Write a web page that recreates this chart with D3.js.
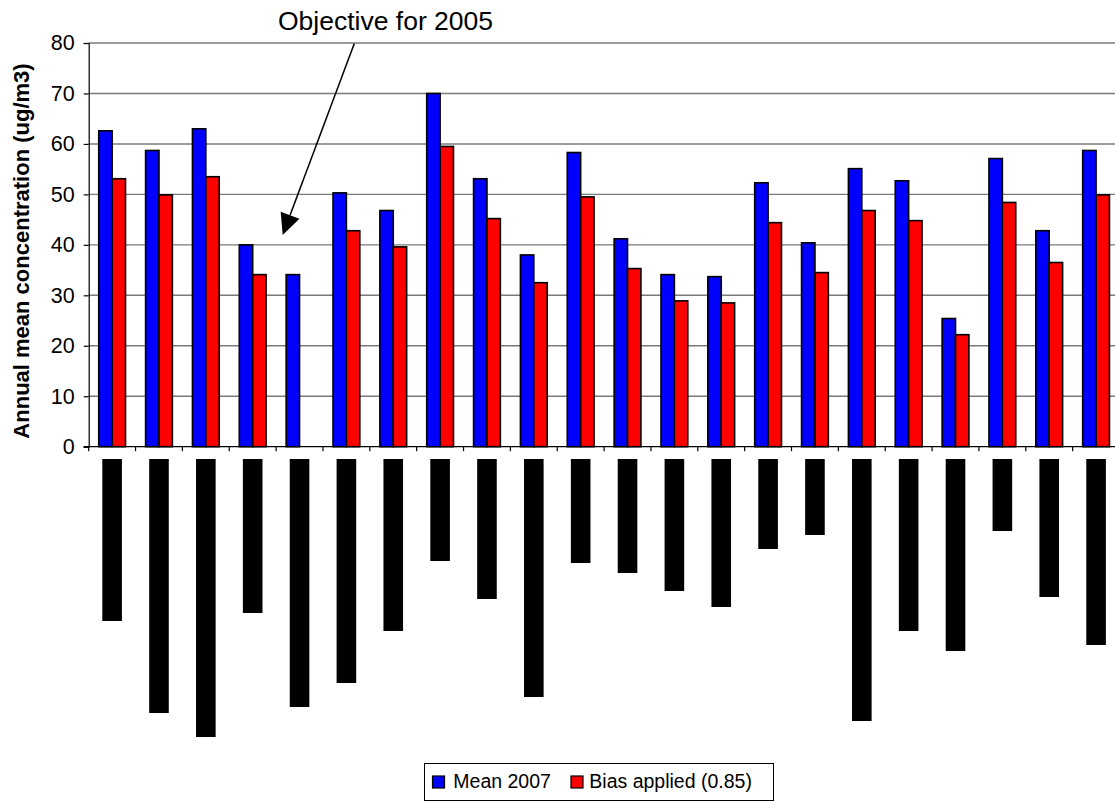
<!DOCTYPE html>
<html>
<head>
<meta charset="utf-8">
<script src="https://cdn.jsdelivr.net/npm/d3@7"></script>
<style>
  html, body { margin: 0; padding: 0; background: #fff; }
  svg { display: block; font-family: "Liberation Sans", Arial, sans-serif; }
</style>
</head>
<body>
<svg id="chart" width="1115" height="805"></svg>
<script>
// Monitoring sites (names are withheld and shown as blocked-out labels)
const sites = ["S01","S02","S03","S04","S05","S06","S07","S08","S09","S10","S11",
               "S12","S13","S14","S15","S16","S17","S18","S19","S20","S21","S22"];

// Annual mean concentration, 2007 (ug/m3)
const mean2007 = [62.6, 58.7, 63.0, 40.0, 34.1, 50.3, 46.8, 70.0, 53.1, 38.0, 58.3,
                  41.2, 34.1, 33.7, 52.3, 40.4, 55.1, 52.7, 25.4, 57.1, 42.8, 58.7];

// Same means with the 0.85 bias factor applied (no value for the fifth site)
const biasApplied = [53.1, 49.9, 53.5, 34.1, null, 42.8, 39.6, 59.5, 45.2, 32.5, 49.5,
                     35.3, 28.9, 28.5, 44.4, 34.5, 46.8, 44.8, 22.2, 48.4, 36.5, 49.9];

// Extent of each blocked-out site label below the axis
const labelExtent = [162, 254, 278, 154, 248, 224, 172, 102, 140, 238, 104,
                     114, 132, 148, 90, 76, 262, 172, 192, 72, 138, 186];

const yTicks = [0, 10, 20, 30, 40, 50, 60, 70, 80];
const seriesNames = ["Mean 2007", "Bias applied (0.85)"];
const seriesColors = ["#0000FF", "#FF0000"];

const svg = d3.select("#chart");
const font = '"Liberation Sans", Arial, sans-serif';

const plot = { left: 88.7, right: 1119.5, top: 43, bottom: 446.7 };

const x = d3.scaleBand().domain(sites).range([plot.left, plot.right]).padding(0);
const xs = d3.scaleBand().domain([0, 1]).range([0, x.bandwidth()])
  .paddingInner(0).paddingOuter(0.75);
const y = d3.scaleLinear().domain([0, 80]).range([plot.bottom, plot.top]);

// gridlines
svg.append("g").selectAll("line").data(yTicks.filter(d => d > 0)).join("line")
  .attr("x1", plot.left).attr("x2", plot.right)
  .attr("y1", d => y(d)).attr("y2", d => y(d))
  .attr("stroke", "#7a7a7a").attr("stroke-width", 1.4);

// bars
const rows = sites.map((s, i) => ({ site: s, vals: [mean2007[i], biasApplied[i]] }));
const groups = svg.append("g").selectAll("g").data(rows).join("g")
  .attr("transform", d => `translate(${x(d.site)},0)`);
groups.selectAll("rect")
  .data(d => d.vals.map((v, k) => ({ v, k })).filter(o => o.v != null))
  .join("rect")
  .attr("x", o => xs(o.k))
  .attr("width", xs.bandwidth())
  .attr("y", o => y(o.v))
  .attr("height", o => y(0) - y(o.v))
  .attr("fill", o => seriesColors[o.k])
  .attr("stroke", "#000").attr("stroke-width", 1.6);

// y axis
const yAxis = d3.axisLeft(y).tickValues(yTicks).tickSize(5).tickPadding(9);
const gy = svg.append("g").attr("transform", `translate(${plot.left},0)`).call(yAxis);
gy.select(".domain").attr("stroke", "#000").attr("stroke-width", 1.2);
gy.selectAll(".tick line").attr("stroke", "#000").attr("stroke-width", 1.2);
gy.selectAll(".tick text").attr("font-family", font).attr("font-size", 21.5)
  .attr("fill", "#000");

// x axis: baseline with ticks at category boundaries
const gx = svg.append("g");
gx.append("line").attr("x1", plot.left - 5).attr("x2", plot.right)
  .attr("y1", y(0)).attr("y2", y(0)).attr("stroke", "#000").attr("stroke-width", 1.2);
gx.selectAll("line.tk").data(sites).join("line").attr("class", "tk")
  .attr("x1", d => x(d)).attr("x2", d => x(d))
  .attr("y1", y(0)).attr("y2", y(0) + 4.5)
  .attr("stroke", "#000").attr("stroke-width", 1.2);

// blocked-out site labels
const labelTop = 459;
const labelLen = d3.scaleLinear().domain([0, 1]).range([0, 1]);
svg.append("g").selectAll("rect").data(sites).join("rect")
  .attr("x", d => x(d) + x.bandwidth() / 2 - 9.8)
  .attr("width", 19.6)
  .attr("y", labelTop)
  .attr("height", (d, i) => labelLen(labelExtent[i]))
  .attr("fill", "#000");

// y axis title
svg.append("text")
  .attr("transform", `translate(29,251) rotate(-90)`)
  .attr("text-anchor", "middle")
  .attr("font-family", font).attr("font-weight", "bold").attr("font-size", 22)
  .text("Annual mean concentration (ug/m3)");

// annotation with arrow
svg.append("text")
  .attr("x", 385.5).attr("y", 30)
  .attr("text-anchor", "middle")
  .attr("font-family", font).attr("font-size", 26.5)
  .text("Objective for 2005");

const start = [354.3, 43.5], tip = [282.7, 235];
const dx = tip[0] - start[0], dy = tip[1] - start[1];
const len = Math.hypot(dx, dy), ux = dx / len, uy = dy / len;
const headL = 21, headW = 10;
const base = [tip[0] - ux * headL, tip[1] - uy * headL];
svg.append("line")
  .attr("x1", start[0]).attr("y1", start[1]).attr("x2", base[0]).attr("y2", base[1])
  .attr("stroke", "#000").attr("stroke-width", 1.5);
svg.append("polygon")
  .attr("points", [
    tip,
    [base[0] - uy * headW, base[1] + ux * headW],
    [base[0] + uy * headW, base[1] - ux * headW]
  ].map(p => p.join(",")).join(" "))
  .attr("fill", "#000");

// legend
const lg = svg.append("g");
lg.append("rect").attr("x", 424.5).attr("y", 763.5).attr("width", 349).attr("height", 37)
  .attr("fill", "#fff").attr("stroke", "#000").attr("stroke-width", 1);
const legendItems = [
  { sx: 432.5, tx: 453.3 },
  { sx: 571, tx: 589.3 }
];
legendItems.forEach((it, k) => {
  lg.append("rect").attr("x", it.sx).attr("y", 776).attr("width", 12).attr("height", 12)
    .attr("fill", seriesColors[k]).attr("stroke", "#000").attr("stroke-width", 1.2);
  lg.append("text").attr("x", it.tx).attr("y", 787.5)
    .attr("font-family", font).attr("font-size", 19.5)
    .text(seriesNames[k]);
});
</script>
</body>
</html>
